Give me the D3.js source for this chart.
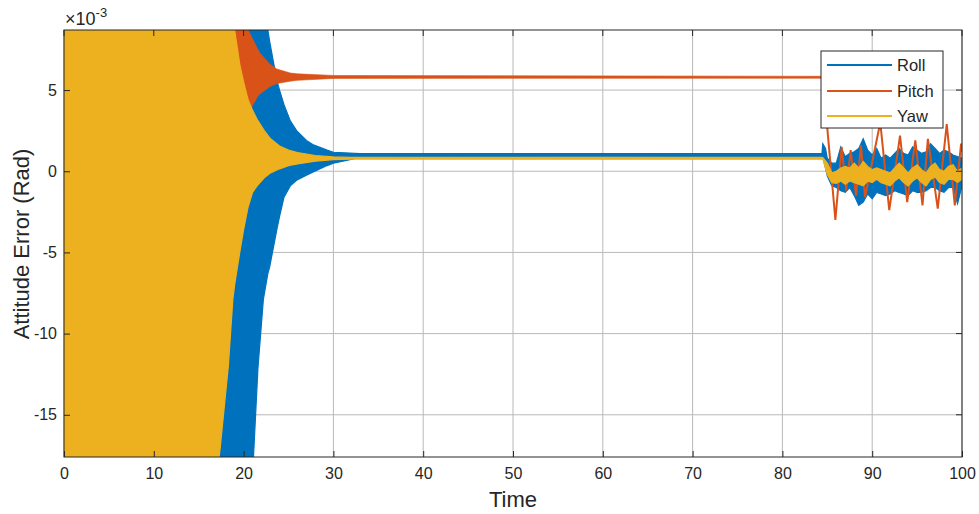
<!DOCTYPE html>
<html>
<head>
<meta charset="utf-8">
<script src="https://cdn.jsdelivr.net/npm/d3@7"></script>
<style>
  html, body { margin: 0; padding: 0; background: #fff; }
  svg { display: block; font-family: Arial, "Liberation Sans", Helvetica, sans-serif; }
</style>
</head>
<body>
<svg id="chart" width="979" height="514"></svg>
<script>
// ---------------- data (values in units of 1e-3 rad) ----------------
const xTicks = [0, 10, 20, 30, 40, 50, 60, 70, 80, 90, 100];
const yTicks = [-15, -10, -5, 0, 5];
const seriesNames = ["Roll", "Pitch", "Yaw"];
const seriesColors = ["#0072BD", "#D95319", "#EDB120"];

// Roll envelope: [time, lower, upper]
const rollEnvelope = [
  [0, -30, 30], [21.0, -19, 12], [21.1, -17.6, 11.5], [21.6, -12.1, 10], [22.2, -7.9, 9.2],
  [22.7, -6.3, 8.7], [22.9, -5.9, 8.0], [23.7, -3.6, 5.6], [24.0, -2.8, 5.0], [24.5, -1.6, 4.1],
  [25.2, -0.9, 3.1], [25.9, -0.55, 2.5], [27.0, -0.25, 1.9], [27.7, -0.06, 1.65], [29.3, 0.35, 1.3],
  [30.0, 0.5, 1.17], [33.0, 0.85, 1.09], [84.4, 0.93, 1.08],
  [84.5, 0.9, 1.7], [84.8, 0.2, 1.4], [85.0, -0.3, 0.8], [85.5, -0.9, 0.5], [86.0, -1.0, 0.5],
  [86.5, -1.2, 1.5], [87.0, -1.3, 0.9], [87.5, -1.0, 1.1], [88.0, -1.5, 1.2], [88.5, -2.1, 1.4],
  [89.0, -1.9, 2.0], [89.5, -1.4, 1.3], [90.0, -1.7, 1.0], [90.5, -1.3, 1.4], [91.0, -1.4, 0.8],
  [91.5, -1.5, 1.0], [92.0, -1.4, 0.8], [92.5, -1.2, 1.1], [93.0, -1.3, 1.4], [93.5, -1.4, 1.1],
  [94.0, -1.5, 1.0], [94.5, -1.2, 1.5], [95.0, -1.3, 1.3], [95.5, -1.3, 1.1], [96.0, -1.2, 1.2],
  [96.5, -1.0, 1.7], [97.0, -1.0, 1.4], [97.5, -1.2, 1.1], [98.0, -1.3, 1.3], [98.5, -1.0, 1.2],
  [99.0, -1.0, 1.0], [99.5, -2.0, 0.9], [100, -0.9, 0.8]
];

// Pitch envelope up to 84.5: [time, lower, upper]
const pitchEnvelope = [
  [0, -30, 30], [19.5, 1.0, 11], [20.5, 3.0, 8.7], [20.7, 3.75, 8.5], [21.5, 4.55, 7.6],
  [21.8, 4.75, 7.3], [22.9, 5.2, 6.6], [23.7, 5.4, 6.3], [25.2, 5.55, 6.05], [26.0, 5.6, 6.0],
  [30.0, 5.72, 5.9], [84.5, 5.73, 5.85]
];

// Pitch after the disturbance: [time, value]
const pitchLine = [
  [84.5, 5.8], [85.9, -3.0], [86.6, 1.5], [87.1, -1.2], [87.6, 1.3], [88.2, -1.5],
  [88.75, 1.6], [89.2, -1.6], [90.9, 3.0], [91.9, -2.4], [93.1, 2.2], [93.9, -1.9],
  [94.8, 1.9], [95.6, -2.1], [96.2, 2.0], [97.3, -2.3], [98.3, 2.9], [99.2, -2.1],
  [99.9, 1.7], [100, 1.2]
];

// Yaw envelope: [time, lower, upper]
const yawEnvelope = [
  [0, -30, 30], [17.0, -19, 30], [17.4, -17.0, 25], [18.3, -12, 15], [18.8, -7.9, 10.5],
  [19.0, -7.0, 8.7], [19.6, -4.9, 6.5], [20.0, -3.6, 5.5], [20.5, -2.2, 4.4], [21.0, -1.3, 3.75],
  [21.5, -0.9, 3.2], [22.3, -0.4, 2.5], [23.0, -0.1, 2.0], [24.0, 0.15, 1.55], [25.0, 0.35, 1.3],
  [26.0, 0.45, 1.15], [28.0, 0.62, 0.97], [30.0, 0.72, 0.88], [32.0, 0.75, 0.85], [84.4, 0.74, 0.86],
  [84.5, 0.75, 0.85], [85.0, -0.2, 0.5], [85.5, -0.7, -0.1], [86.0, -0.75, 0.0], [86.5, -0.6, 0.2],
  [87.0, -0.8, 0.3], [87.5, -0.6, 0.2], [88.0, -0.7, 0.5], [88.5, -0.8, 0.2], [89.0, -0.9, 0.6],
  [89.5, -0.6, 0.3], [90.0, -0.7, 0.1], [90.5, -0.5, 0.2], [91.0, -0.7, 0.1], [91.5, -0.8, 0.0],
  [92.0, -0.9, -0.1], [92.5, -0.6, 0.2], [93.0, -0.4, 0.5], [93.5, -0.7, 0.2], [94.0, -0.9, -0.1],
  [94.5, -0.6, 0.2], [95.0, -0.4, 0.4], [95.5, -0.7, 0.1], [96.0, -0.9, -0.1], [96.5, -0.5, 0.3],
  [97.0, -0.35, 0.5], [97.5, -0.7, 0.1], [98.0, -0.8, 0.0], [98.5, -0.5, 0.3], [99.0, -0.5, 0.4],
  [99.5, -0.7, 0.0], [100, -0.5, 0.2]
];

// ---------------- layout ----------------
const svg = d3.select("#chart");
const m = { left: 64, right: 962, top: 30, bottom: 457 };
const x = d3.scaleLinear().domain([0, 100]).range([m.left, m.right]);
const y = d3.scaleLinear().domain([-17.6, 8.7]).range([m.bottom, m.top]);
const ink = "#262626";
const font = "Arial, 'Liberation Sans', Helvetica, sans-serif";

svg.append("defs").append("clipPath").attr("id", "plotclip")
  .append("rect").attr("x", m.left).attr("y", m.top)
  .attr("width", m.right - m.left).attr("height", m.bottom - m.top);

// grid
const grid = svg.append("g");
grid.selectAll(".gx").data(xTicks).enter().append("line")
  .attr("x1", d => x(d)).attr("x2", d => x(d)).attr("y1", m.top).attr("y2", m.bottom)
  .attr("stroke", "#b9b9b9").attr("stroke-width", 1);
grid.selectAll(".gy").data(yTicks).enter().append("line")
  .attr("y1", d => y(d)).attr("y2", d => y(d)).attr("x1", m.left).attr("x2", m.right)
  .attr("stroke", "#b9b9b9").attr("stroke-width", 1);

// data
const plot = svg.append("g").attr("clip-path", "url(#plotclip)");
const area = d3.area().x(d => x(d[0])).y0(d => y(d[1])).y1(d => y(d[2]));
const line = d3.line().x(d => x(d[0])).y(d => y(d[1]));

plot.append("path").datum(rollEnvelope).attr("d", area)
  .attr("fill", seriesColors[0]).attr("stroke", seriesColors[0]).attr("stroke-width", 1.2);
plot.append("path").datum(pitchEnvelope).attr("d", area)
  .attr("fill", seriesColors[1]).attr("stroke", seriesColors[1]).attr("stroke-width", 0.6);
plot.append("path").datum(pitchLine).attr("d", line)
  .attr("fill", "none").attr("stroke", seriesColors[1]).attr("stroke-width", 2)
  .attr("stroke-linejoin", "miter");
plot.append("path").datum(yawEnvelope).attr("d", area)
  .attr("fill", seriesColors[2]).attr("stroke", seriesColors[2]).attr("stroke-width", 1.2);

// axes box
const axes = svg.append("g");
axes.append("rect").attr("x", m.left).attr("y", m.top)
  .attr("width", m.right - m.left).attr("height", m.bottom - m.top)
  .attr("fill", "none").attr("stroke", ink).attr("stroke-width", 1);

const xAxis = d3.axisBottom(x).tickValues(xTicks).tickSize(-6).tickPadding(11)
  .tickFormat(d => String(d));
const gx = axes.append("g").attr("transform", `translate(0,${m.bottom})`).call(xAxis);
const yAxis = d3.axisLeft(y).tickValues(yTicks).tickSize(-6).tickPadding(7)
  .tickFormat(d => String(d));
const gy = axes.append("g").attr("transform", `translate(${m.left},0)`).call(yAxis);
[gx, gy].forEach(g => {
  g.select(".domain").remove();
  g.selectAll(".tick line").attr("stroke", ink);
  g.selectAll("text").attr("fill", ink).style("font-size", "16px").style("font-family", font);
});
// top and right ticks
axes.selectAll(".tt").data(xTicks).enter().append("line")
  .attr("x1", d => x(d)).attr("x2", d => x(d)).attr("y1", m.top).attr("y2", m.top + 6)
  .attr("stroke", ink);
axes.selectAll(".rt").data(yTicks).enter().append("line")
  .attr("y1", d => y(d)).attr("y2", d => y(d)).attr("x1", m.right).attr("x2", m.right - 6)
  .attr("stroke", ink);

// exponent label
const expo = svg.append("text").attr("x", 65).attr("y", 25).attr("fill", ink)
  .style("font-size", "18px").style("font-family", font);
expo.append("tspan").text("\u00d710");
expo.append("tspan").attr("dy", -8).style("font-size", "13px").text("-3");

// axis titles
svg.append("text").attr("x", (m.left + m.right) / 2).attr("y", 507)
  .attr("text-anchor", "middle").attr("fill", ink).style("font-size", "22px")
  .style("font-family", font).text("Time");
svg.append("text").attr("transform", "translate(29,244) rotate(-90)")
  .attr("text-anchor", "middle").attr("fill", ink).style("font-size", "22px")
  .style("font-family", font).text("Attitude Error (Rad)");

// legend
const lg = svg.append("g");
lg.append("rect").attr("x", 821).attr("y", 51).attr("width", 122).attr("height", 77)
  .attr("fill", "#fff").attr("stroke", ink).attr("stroke-width", 1);
const rowsY = [65, 91, 116];
seriesNames.forEach((name, i) => {
  lg.append("line").attr("x1", 827).attr("x2", 892).attr("y1", rowsY[i]).attr("y2", rowsY[i])
    .attr("stroke", seriesColors[i]).attr("stroke-width", 2);
  lg.append("text").attr("x", 897).attr("y", rowsY[i]).attr("dy", "0.35em")
    .attr("fill", ink).style("font-size", "16.5px").style("font-family", font).text(name);
});
</script>
</body>
</html>
